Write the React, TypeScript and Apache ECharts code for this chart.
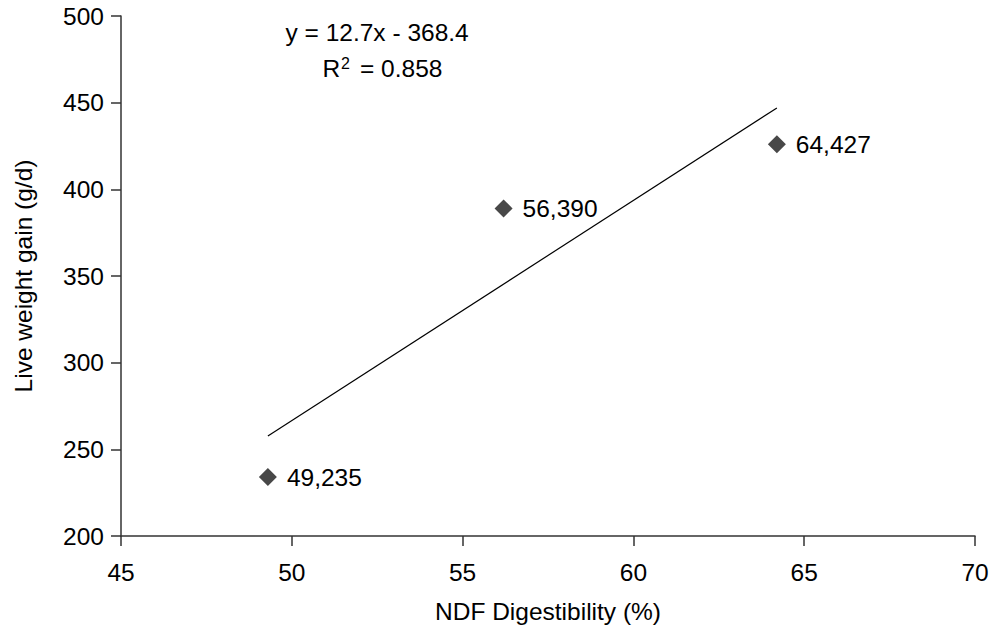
import React, { useEffect, useRef } from "react";
import * as echarts from "echarts";

const xValues = [49.3, 56.2, 64.2];
const yValues = [234, 389, 426];
const pointLabels = ["49,235", "56,390", "64,427"];
const slope = 12.7;
const intercept = -368.4;
const equationText = "y = 12.7x - 368.4";
const r2Text = "= 0.858";

export default function App() {
  const ref = useRef<HTMLDivElement>(null);
  useEffect(() => {
    if (!ref.current) return;
    const chart = echarts.init(ref.current, null, { renderer: "svg" });
    const font = "'Liberation Sans', Arial, sans-serif";
    const fs = 24.5;
    const xMin = Math.min(...xValues);
    const xMax = Math.max(...xValues);
    const trend = [
      [xMin, slope * xMin + intercept],
      [xMax, slope * xMax + intercept],
    ];
    const axisColor = "#333";
    chart.setOption({
      animation: false,
      backgroundColor: "#fff",
      textStyle: { fontFamily: font },
      grid: { left: 121, right: 19, top: 16, bottom: 96, containLabel: false },
      xAxis: {
        type: "value",
        min: 45,
        max: 70,
        interval: 5,
        name: "NDF Digestibility (%)",
        nameLocation: "middle",
        nameGap: 63,
        nameTextStyle: { fontSize: fs, color: "#000", fontFamily: font },
        axisLine: { show: true, lineStyle: { color: axisColor, width: 1.5 } },
        axisTick: { show: true, length: 10, inside: false, lineStyle: { color: axisColor, width: 1.5 } },
        axisLabel: { fontSize: fs, color: "#000", margin: 23.5, fontFamily: font },
        splitLine: { show: false },
      },
      yAxis: {
        type: "value",
        min: 200,
        max: 500,
        interval: 50,
        name: "Live weight gain (g/d)",
        nameLocation: "middle",
        nameGap: 85,
        nameRotate: 90,
        nameTextStyle: { fontSize: fs, color: "#000", fontFamily: font },
        axisLine: { show: true, lineStyle: { color: axisColor, width: 1.5 } },
        axisTick: { show: true, length: 10, inside: false, lineStyle: { color: axisColor, width: 1.5 } },
        axisLabel: { fontSize: fs, color: "#000", margin: 17, fontFamily: font },
        splitLine: { show: false },
      },
      series: [
        {
          type: "line",
          data: trend,
          symbol: "none",
          lineStyle: { color: "#000", width: 1.2 },
          silent: true,
          z: 1,
        },
        {
          type: "scatter",
          data: xValues.map((x, i) => [x, yValues[i]]),
          symbol: "diamond",
          symbolSize: [18, 18],
          itemStyle: { color: "#484848", opacity: 1 },
          label: {
            show: true,
            position: "right",
            distance: 10,
            fontSize: fs,
            color: "#000",
            fontFamily: font,
            formatter: (p: any) => pointLabels[p.dataIndex],
          },
          z: 3,
        },
      ],
      graphic: [
        {
          type: "text",
          left: 285.5,
          top: 20,
          style: { text: equationText, fill: "#000", font: `${fs}px ${font}` },
        },
        {
          type: "text",
          left: 322.5,
          top: 55.5,
          style: { text: "R", fill: "#000", font: `${fs}px ${font}` },
        },
        {
          type: "text",
          left: 341,
          top: 55,
          style: { text: "2", fill: "#000", font: `16px ${font}` },
        },
        {
          type: "text",
          left: 360,
          top: 55.5,
          style: { text: r2Text, fill: "#000", font: `${fs}px ${font}` },
        },
      ],
    });
    return () => chart.dispose();
  }, []);
  return (
    <div
      ref={ref}
      style={{ position: "absolute", left: 0, top: 0, width: 994, height: 632 }}
    />
  );
}
